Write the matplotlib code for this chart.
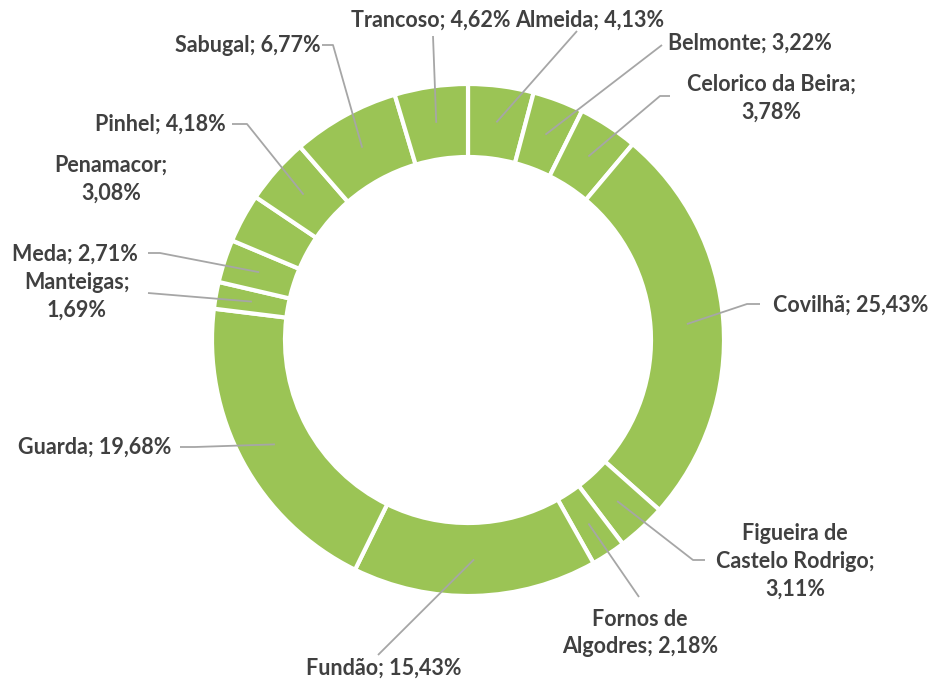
import matplotlib
matplotlib.use("Agg")
import matplotlib.pyplot as plt
import numpy as np

# data
names = ["Almeida", "Belmonte", "Celorico da Beira", "Covilhã",
         "Figueira de Castelo Rodrigo", "Fornos de Algodres", "Fundão",
         "Guarda", "Manteigas", "Meda", "Penamacor", "Pinhel", "Sabugal",
         "Trancoso"]
shares = [4.13, 3.22, 3.78, 25.43, 3.11, 2.18, 15.43, 19.68, 1.69, 2.71,
          3.08, 4.18, 6.77, 4.62]
label_text = ["Almeida; 4,13%", "Belmonte; 3,22%", "Celorico da Beira;\n3,78%",
              "Covilhã; 25,43%", "Figueira de\nCastelo Rodrigo;\n3,11%",
              "Fornos de\nAlgodres; 2,18%", "Fundão; 15,43%",
              "Guarda; 19,68%", "Manteigas;\n1,69%", "Meda; 2,71%",
              "Penamacor;\n3,08%", "Pinhel; 4,18%", "Sabugal; 6,77%",
              "Trancoso; 4,62%"]

# layout in pixels (y down): label centre, leader end, elbow end (None = no elbow)
W, H = 933, 681
cx, cy, R, ring = 468, 340, 256, 73
lab_pos = [(590, 20), (750, 43), (771, 98), (851, 305), (795, 561),
           (640, 633), (384, 668), (95, 447), (77, 296), (75, 254),
           (111, 179), (160, 124), (248, 45), (431, 20)]
lead_end = [(577, 31), (662, 45), (660, 96), (747, 304), (693, 560),
            (639, 597), (378, 655), (195, 447), (160, 294), (160, 253),
            None, (247, 124), (333, 45), (433, 36)]
elbow_end = [None, None, (670, 96), (760, 304), (705, 560),
             None, None, (180, 447), (148, 293), (148, 253),
             None, (232, 124), (322, 45), None]

green = "#9BC455"
txt_col = "#404040"
line_col = "#A6A6A6"

plt.rcParams['font.family'] = ['Lato', 'DejaVu Sans']

fig = plt.figure(figsize=(W / 100, H / 100), dpi=100)
ax = fig.add_axes([0, 0, 1, 1])

wedges, _ = ax.pie(shares, center=(cx, H - cy), radius=R, startangle=90,
                   counterclock=False, colors=[green] * len(shares),
                   wedgeprops=dict(width=ring, edgecolor='white', linewidth=3))
ax.set_xlim(0, W)
ax.set_ylim(0, H)
ax.set_aspect('equal')
ax.axis('off')

mid_r = R - ring / 2
for w, t, lp, le, ee in zip(wedges, label_text, lab_pos, lead_end, elbow_end):
    ang = np.deg2rad((w.theta1 + w.theta2) / 2)
    ax_x = cx + mid_r * np.cos(ang)
    ax_y = (H - cy) + mid_r * np.sin(ang)
    if le is not None:
        xs = [ax_x, le[0]]
        ys = [ax_y, H - le[1]]
        if ee is not None:
            xs.append(ee[0])
            ys.append(H - ee[1])
        ax.plot(xs, ys, color=line_col, lw=1.3, solid_capstyle='butt')
    ax.text(lp[0], H - lp[1], t, ha='center', va='center', fontsize=15.5,
            fontweight='bold', color=txt_col, linespacing=1.4)

fig.savefig("out.png", dpi=100)
